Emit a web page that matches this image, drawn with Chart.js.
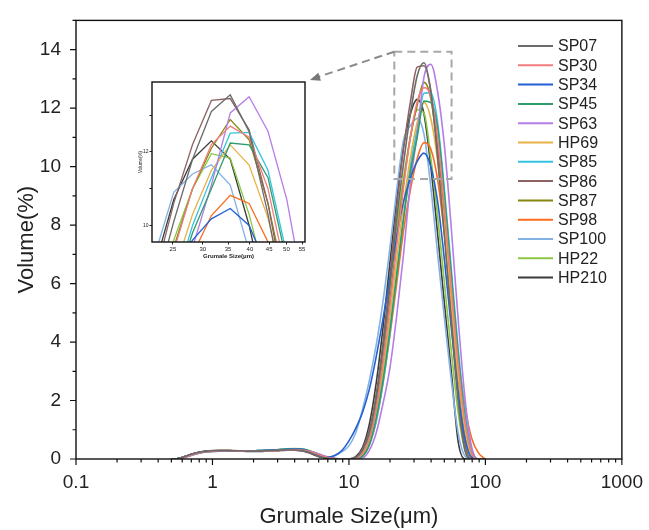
<!DOCTYPE html>
<html>
<head>
<meta charset="utf-8">
<script src="https://cdn.jsdelivr.net/npm/chart.js@4.4.0/dist/chart.umd.min.js"></script>
<style>
  body { margin: 0; background: #fff; }
  #wrap { position: relative; width: 649px; height: 530px; }
  #mainChart { position: absolute; left: 0; top: 0; }
  #insetChart { position: absolute; left: 138px; top: 78px; }
</style>
</head>
<body>
<div id="wrap">
  <canvas id="mainChart" width="649" height="530"></canvas>
  <canvas id="insetChart" width="172" height="182"></canvas>
</div>
<script>
// particle size bins (µm)
const sizes = [0.501, 0.562, 0.631, 0.708, 0.794, 0.891, 1.0, 1.122, 1.259, 1.413, 1.585, 1.778, 1.995, 2.239, 2.512, 2.818, 3.162, 3.548, 3.981, 4.467, 5.012, 5.623, 6.31, 7.079, 7.943, 8.913,
  10.0, 11.22, 12.59, 14.13, 15.85, 17.78, 19.95, 22.39, 25.12, 28.18, 31.62, 35.48, 39.81, 44.67, 50.12, 56.23, 63.1, 70.79, 79.43, 89.13, 100.0];

// volume (%) per sample
const sp07 = [0, 0.02, 0.09, 0.17, 0.23, 0.26, 0.28, 0.29, 0.29, 0.28, 0.28, 0.27, 0.27, 0.27, 0.28, 0.29, 0.3, 0.31, 0.31, 0.29, 0.24, 0.15, 0.07, 0.02, 0, 0,
  0, 0.05, 0.3, 0.9, 2.1, 3.8, 5.9, 8.2, 10.1, 11.8, 13.1, 13.55, 12.55, 10.3, 7.6, 4.7, 2.0, 0.3, 0, 0, 0];
const sp30 = [0, 0.01, 0.07, 0.15, 0.21, 0.25, 0.27, 0.28, 0.28, 0.28, 0.27, 0.27, 0.27, 0.27, 0.28, 0.29, 0.3, 0.31, 0.32, 0.31, 0.27, 0.2, 0.11, 0.05, 0.01, 0,
  0, 0.02, 0.2, 0.7, 1.7, 3.3, 5.2, 7.3, 9.3, 11.0, 12.2, 12.7, 12.4, 11.0, 8.6, 5.9, 3.3, 1.3, 0.2, 0, 0];
const sp34 = [0, 0.02, 0.08, 0.16, 0.22, 0.26, 0.28, 0.28, 0.28, 0.28, 0.28, 0.28, 0.28, 0.29, 0.3, 0.31, 0.32, 0.33, 0.34, 0.33, 0.28, 0.18, 0.1, 0.07, 0.13, 0.3,
  0.62, 1.05, 1.6, 2.4, 3.5, 4.8, 6.2, 7.6, 8.8, 9.6, 10.18, 10.46, 10.0, 8.8, 6.8, 4.5, 2.3, 0.7, 0.05, 0, 0];
const sp45 = [0, 0.02, 0.08, 0.15, 0.21, 0.25, 0.27, 0.28, 0.28, 0.28, 0.28, 0.28, 0.28, 0.29, 0.3, 0.31, 0.32, 0.34, 0.35, 0.34, 0.29, 0.2, 0.1, 0.04, 0.01, 0,
  0, 0.02, 0.1, 0.5, 1.4, 2.7, 4.4, 6.3, 8.2, 9.8, 11.0, 12.24, 12.19, 11.3, 9.0, 6.3, 3.6, 1.4, 0.2, 0, 0];
const sp63 = [0, 0.01, 0.06, 0.13, 0.2, 0.24, 0.26, 0.27, 0.27, 0.27, 0.27, 0.27, 0.27, 0.27, 0.28, 0.29, 0.3, 0.31, 0.32, 0.31, 0.28, 0.22, 0.14, 0.07, 0.02, 0,
  0, 0, 0.03, 0.3, 0.9, 1.9, 3.1, 4.9, 7.0, 9.4, 11.1, 13.06, 13.5, 12.56, 10.7, 7.9, 4.8, 2.1, 0.4, 0, 0];
const hp69 = [0, 0.02, 0.08, 0.15, 0.21, 0.25, 0.27, 0.28, 0.28, 0.28, 0.27, 0.27, 0.27, 0.27, 0.28, 0.29, 0.3, 0.31, 0.32, 0.31, 0.27, 0.2, 0.11, 0.04, 0.01, 0,
  0, 0.02, 0.15, 0.6, 1.6, 3.0, 4.8, 6.8, 8.7, 10.3, 11.5, 12.19, 11.64, 10.2, 8.0, 5.4, 2.9, 1.0, 0.1, 0, 0];
const sp85 = [0, 0.01, 0.07, 0.14, 0.2, 0.24, 0.26, 0.27, 0.27, 0.27, 0.27, 0.27, 0.27, 0.28, 0.29, 0.3, 0.31, 0.33, 0.34, 0.33, 0.29, 0.21, 0.12, 0.05, 0.01, 0,
  0, 0.01, 0.1, 0.5, 1.3, 2.6, 4.3, 6.3, 8.3, 10.0, 11.3, 12.51, 12.53, 11.5, 9.2, 6.5, 3.8, 1.6, 0.3, 0, 0];
const sp86 = [0, 0.02, 0.09, 0.17, 0.23, 0.27, 0.29, 0.3, 0.3, 0.29, 0.28, 0.28, 0.27, 0.27, 0.28, 0.29, 0.3, 0.31, 0.31, 0.29, 0.24, 0.15, 0.07, 0.02, 0, 0,
  0, 0.05, 0.35, 1.0, 2.2, 4.0, 6.2, 8.6, 10.6, 12.2, 13.4, 13.45, 12.6, 10.6, 7.8, 4.9, 2.2, 0.5, 0, 0, 0];
const sp87 = [0, 0.02, 0.08, 0.16, 0.22, 0.26, 0.28, 0.29, 0.29, 0.28, 0.28, 0.28, 0.28, 0.28, 0.29, 0.3, 0.31, 0.32, 0.33, 0.32, 0.28, 0.2, 0.11, 0.04, 0.01, 0,
  0, 0.03, 0.2, 0.7, 1.8, 3.4, 5.4, 7.5, 9.4, 11.0, 12.1, 12.88, 12.33, 10.6, 8.2, 5.4, 2.8, 0.9, 0.05, 0, 0];
const sp98 = [0, 0.01, 0.06, 0.14, 0.2, 0.24, 0.26, 0.27, 0.27, 0.27, 0.27, 0.27, 0.27, 0.27, 0.28, 0.29, 0.3, 0.31, 0.32, 0.31, 0.28, 0.21, 0.12, 0.05, 0.01, 0,
  0, 0.01, 0.1, 0.5, 1.3, 2.6, 4.2, 6.0, 7.8, 9.2, 10.27, 10.82, 10.6, 9.55, 7.7, 5.6, 3.5, 1.8, 0.7, 0.2, 0];
const sp100 = [0, 0.02, 0.08, 0.15, 0.21, 0.25, 0.27, 0.28, 0.28, 0.28, 0.28, 0.28, 0.28, 0.29, 0.3, 0.31, 0.32, 0.33, 0.33, 0.31, 0.26, 0.16, 0.08, 0.06, 0.12, 0.25,
  0.45, 0.9, 1.7, 2.7, 3.9, 5.4, 7.2, 9.2, 10.9, 11.4, 11.65, 11.1, 9.3, 7.0, 4.8, 2.7, 0.9, 0.1, 0, 0, 0];
const hp22 = [0, 0.02, 0.08, 0.16, 0.22, 0.26, 0.28, 0.28, 0.28, 0.28, 0.28, 0.28, 0.28, 0.29, 0.3, 0.31, 0.33, 0.35, 0.36, 0.35, 0.3, 0.2, 0.1, 0.03, 0, 0,
  0, 0.04, 0.3, 0.9, 2.2, 3.9, 5.9, 7.9, 9.6, 11.0, 11.95, 11.83, 10.3, 8.3, 6.0, 3.7, 1.6, 0.3, 0, 0, 0];
const hp210 = [0, 0.02, 0.09, 0.17, 0.23, 0.26, 0.28, 0.28, 0.28, 0.27, 0.27, 0.26, 0.26, 0.26, 0.27, 0.28, 0.29, 0.3, 0.3, 0.28, 0.22, 0.13, 0.05, 0.01, 0, 0,
  0, 0.08, 0.4, 1.2, 2.6, 4.5, 6.7, 8.9, 10.7, 11.8, 12.3, 11.8, 10.0, 7.7, 5.3, 3.0, 0.6, 0, 0, 0, 0];

const seriesNames = ['SP07', 'SP30', 'SP34', 'SP45', 'SP63', 'HP69', 'SP85', 'SP86', 'SP87', 'SP98', 'SP100', 'HP22', 'HP210'];
const seriesValues = [sp07, sp30, sp34, sp45, sp63, hp69, sp85, sp86, sp87, sp98, sp100, hp22, hp210];
const seriesColors = ['#6b6b6b', '#f27d7d', '#2360d4', '#2f9c6c', '#b57de6', '#e9b143', '#33c3df', '#8e6262', '#86860e', '#fb6c1f', '#83b1e4', '#8bc744', '#3b3b3b'];

// axis ticks
const xMajor = [0.1, 1, 10, 100, 1000];
const xTickLabels = ['0.1', '1', '10', '100', '1000'];
const yMajor = [0, 2, 4, 6, 8, 10, 12, 14];
const insetXTicks = [25, 30, 35, 40, 45, 50, 55];
const insetYTicks = [10, 11, 12, 13];
const insetYLabels = [10, 12];

// zoomed window (µm, %)
const zoomX = [21.5, 56.5];
const zoomY = [9.58, 13.93];

Chart.defaults.font.family = "'Liberation Sans', Arial, sans-serif";
Chart.defaults.color = '#222';

function makeDatasets() {
    return seriesNames.map((name, k) => ({
        label: name,
        data: sizes.map((s, i) => ({ x: s, y: seriesValues[k][i] })),
        borderColor: seriesColors[k],
        backgroundColor: seriesColors[k],
        fill: false
    }));
}

// minor ticks 2..9 in every decade
const xMinor = [];
[0.1, 1, 10, 100].forEach(d => {
    for (let m = 2; m <= 9; m++) xMinor.push(+(d * m).toPrecision(3));
});
const isXMajor = v => xMajor.some(m => Math.abs(m - v) / m < 1e-6);

// frame, tick marks, legend, zoom window and arrow
const mainDecor = {
    id: 'mainDecor',
    afterDraw(chart) {
        const { ctx, chartArea: a, scales: { x, y } } = chart;
        ctx.save();
        ctx.strokeStyle = '#111';
        ctx.lineWidth = 1.4;
        ctx.strokeRect(a.left, a.top, a.right - a.left, a.bottom - a.top);

        ctx.lineWidth = 1.2;
        ctx.beginPath();
        x.ticks.forEach(t => {
            const px = x.getPixelForValue(t.value);
            const len = isXMajor(t.value) ? 6 : 3.5;
            ctx.moveTo(px, a.bottom);
            ctx.lineTo(px, a.bottom + len);
        });
        y.ticks.forEach(t => {
            const py = y.getPixelForValue(t.value);
            const len = yMajor.includes(t.value) ? 6 : 3.5;
            ctx.moveTo(a.left, py);
            ctx.lineTo(a.left - len, py);
        });
        ctx.stroke();

        // dashed zoom window
        const x0 = x.getPixelForValue(zoomX[0]), x1 = x.getPixelForValue(zoomX[1]);
        const y0 = y.getPixelForValue(zoomY[1]), y1 = y.getPixelForValue(zoomY[0]);
        ctx.strokeStyle = '#a8a8a8';
        ctx.lineWidth = 2;
        ctx.setLineDash([8, 5]);
        ctx.strokeRect(x0, y0, x1 - x0, y1 - y0);

        // dashed arrow to the inset's corner
        const tipX = 310, tipY = 80;
        ctx.strokeStyle = '#8a8a8a';
        ctx.beginPath();
        ctx.moveTo(x0, y0);
        ctx.lineTo(tipX + 8, tipY - 3);
        ctx.stroke();
        ctx.setLineDash([]);
        const ang = Math.atan2(y0 - tipY, x0 - tipX);
        ctx.fillStyle = '#777';
        ctx.beginPath();
        ctx.moveTo(tipX, tipY);
        ctx.lineTo(tipX + 11 * Math.cos(ang - 0.4), tipY + 11 * Math.sin(ang - 0.4));
        ctx.lineTo(tipX + 11 * Math.cos(ang + 0.4), tipY + 11 * Math.sin(ang + 0.4));
        ctx.closePath();
        ctx.fill();

        // legend
        ctx.font = "16px 'Liberation Sans', Arial, sans-serif";
        ctx.textBaseline = 'middle';
        chart.data.datasets.forEach((ds, i) => {
            const ly = 46 + i * 19.3;
            ctx.strokeStyle = ds.borderColor;
            ctx.lineWidth = 2;
            ctx.beginPath();
            ctx.moveTo(518, ly);
            ctx.lineTo(553, ly);
            ctx.stroke();
            ctx.fillStyle = '#222';
            ctx.fillText(ds.label, 558, ly + 1);
        });
        ctx.restore();
    }
};

const mainChart = new Chart(document.getElementById('mainChart'), {
    type: 'line',
    data: { datasets: makeDatasets() },
    options: {
        responsive: false,
        animation: false,
        devicePixelRatio: 1,
        layout: { padding: { top: 15, right: 21, left: 0, bottom: 0 } },
        plugins: { legend: { display: false }, tooltip: { enabled: false } },
        elements: {
            point: { radius: 0 },
            line: { borderWidth: 1.6, tension: 0.4, cubicInterpolationMode: 'monotone' }
        },
        scales: {
            x: {
                type: 'logarithmic',
                min: 0.1,
                max: 1000,
                afterBuildTicks: s => {
                    s.ticks = xMajor.concat(xMinor).sort((a, b) => a - b).map(v => ({ value: v }));
                },
                ticks: {
                    autoSkip: false,
                    maxRotation: 0,
                    padding: 6,
                    font: { size: 19 },
                    callback: v => {
                        const k = xMajor.findIndex(m => Math.abs(m - v) / m < 1e-6);
                        return k >= 0 ? xTickLabels[k] : '';
                    }
                },
                grid: { display: false, drawTicks: true, tickLength: 6 },
                border: { display: false },
                title: { display: true, text: 'Grumale Size(\u03bcm)', font: { size: 22 }, padding: { top: 1, bottom: 0 } },
                afterFit: s => { s.height = 71; }
            },
            y: {
                min: 0,
                max: 15,
                ticks: {
                    stepSize: 1,
                    padding: 9,
                    font: { size: 19 },
                    callback: v => yMajor.includes(v) ? String(v) : ''
                },
                grid: { display: false, drawTicks: true, tickLength: 6 },
                border: { display: false },
                title: { display: true, text: 'Volume(%)', font: { size: 22 }, padding: { top: 14, bottom: 0 } },
                afterFit: s => { s.width = 76; }
            }
        }
    },
    plugins: [mainDecor]
});

// inset: white plot area and black frame
const insetDecor = {
    id: 'insetDecor',
    beforeDatasetsDraw(chart) {
        const { ctx, chartArea: a } = chart;
        ctx.save();
        ctx.fillStyle = '#fff';
        ctx.fillRect(a.left, a.top, a.right - a.left, a.bottom - a.top);
        ctx.restore();
    },
    afterDraw(chart) {
        const { ctx, chartArea: a } = chart;
        ctx.save();
        ctx.strokeStyle = '#111';
        ctx.lineWidth = 1.4;
        ctx.strokeRect(a.left, a.top, a.right - a.left, a.bottom - a.top);
        ctx.restore();
    }
};

const insetChart = new Chart(document.getElementById('insetChart'), {
    type: 'line',
    data: { datasets: makeDatasets() },
    options: {
        responsive: false,
        animation: false,
        devicePixelRatio: 1,
        layout: { padding: { top: 4, right: 5, left: 0, bottom: 0 } },
        plugins: { legend: { display: false }, tooltip: { enabled: false } },
        elements: {
            point: { radius: 0 },
            line: { borderWidth: 1.3, tension: 0 }
        },
        scales: {
            x: {
                type: 'logarithmic',
                min: 22,
                max: 56,
                afterBuildTicks: s => { s.ticks = insetXTicks.map(v => ({ value: v })); },
                ticks: { autoSkip: false, maxRotation: 0, padding: 1, font: { size: 6 }, callback: v => String(v) },
                grid: { drawOnChartArea: false, tickLength: 2.5, color: '#222' },
                border: { display: false },
                title: { display: true, text: 'Grumale Size(\u03bcm)', font: { size: 6, weight: 'bold' }, padding: 0 },
                afterFit: s => { s.height = 18; }
            },
            y: {
                min: 9.55,
                max: 13.9,
                afterBuildTicks: s => { s.ticks = insetYTicks.map(v => ({ value: v })); },
                ticks: { autoSkip: false, padding: 1, font: { size: 5 }, callback: v => insetYLabels.includes(v) ? String(v) : '' },
                grid: { drawOnChartArea: false, tickLength: 2.5, color: '#222' },
                border: { display: false },
                title: { display: true, text: 'Volume(%)', font: { size: 4.5 }, padding: 0 },
                afterFit: s => { s.width = 14; }
            }
        }
    },
    plugins: [insetDecor]
});
</script>
</body>
</html>
